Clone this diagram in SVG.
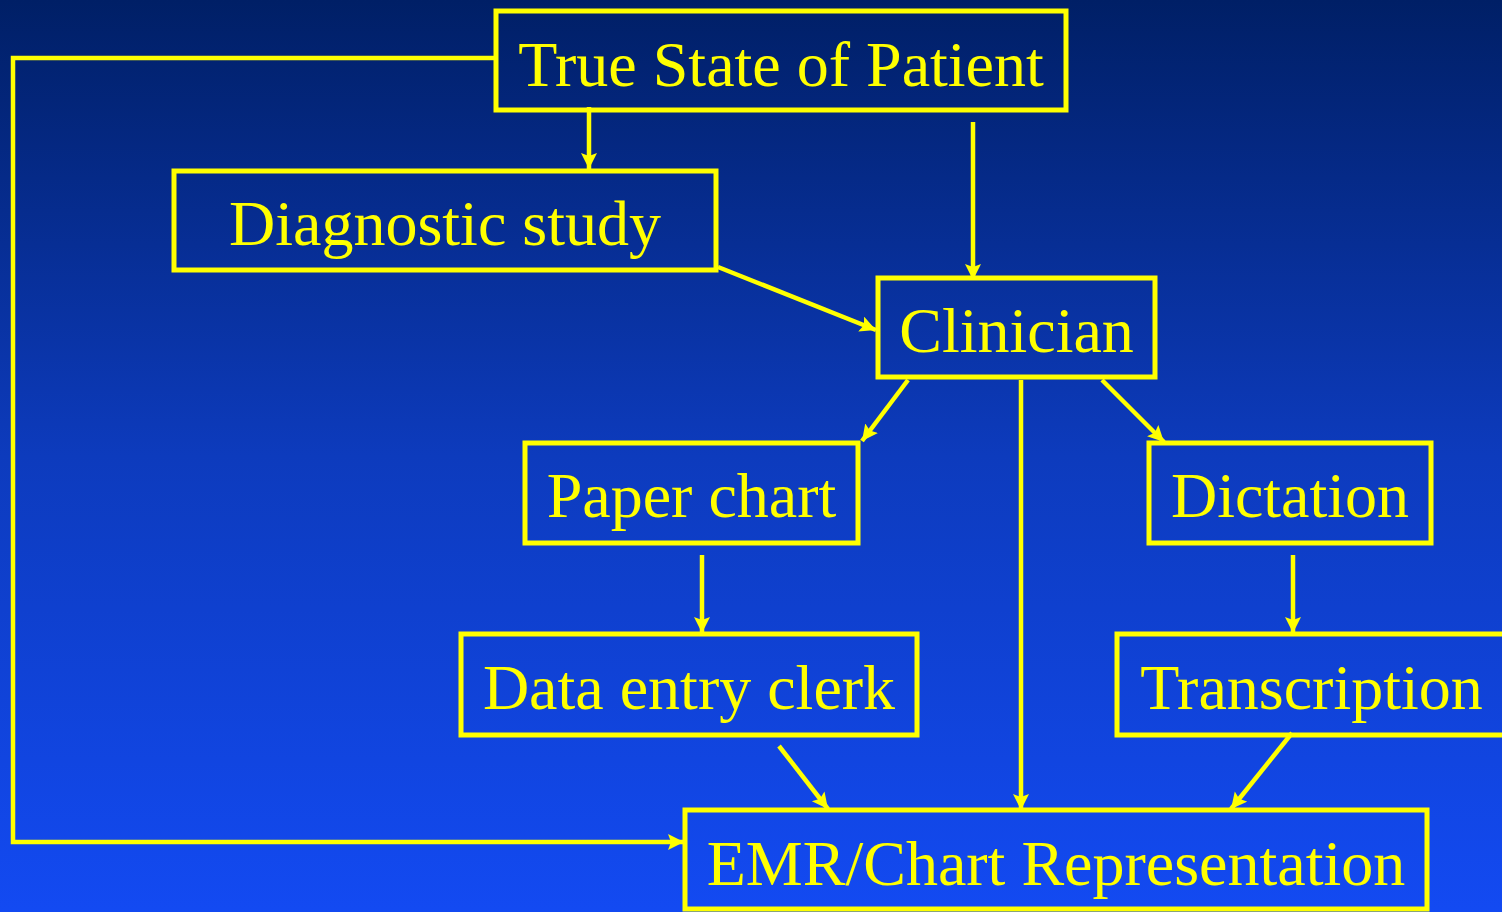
<svg xmlns="http://www.w3.org/2000/svg" width="1502" height="912" viewBox="0 0 1502 912">
<defs>
<linearGradient id="bg" x1="0" y1="0" x2="0" y2="1">
<stop offset="0" stop-color="#001f66"/>
<stop offset="0.5" stop-color="#0d3bbd"/>
<stop offset="1" stop-color="#134af2"/>
</linearGradient>
<marker id="arr" markerUnits="userSpaceOnUse" markerWidth="18" markerHeight="18" refX="16" refY="8" orient="auto">
<path d="M0,0 L16,8 L0,16 L3,8 z" fill="#ffff00"/>
</marker>
<style>
.box{fill:none;stroke:#ffff00;stroke-width:5}
.lbl{font-family:"Liberation Serif","Times New Roman",serif;font-size:64px;fill:#ffff00;text-anchor:middle}
.con{fill:none;stroke:#ffff00;stroke-width:4.5}
</style>
</defs>
<rect x="0" y="0" width="1502" height="912" fill="url(#bg)"/>
<g id="connectors">
<line class="con" x1="589" y1="107" x2="589" y2="169" marker-end="url(#arr)"/>
<line class="con" x1="973" y1="122" x2="973" y2="280" marker-end="url(#arr)"/>
<line class="con" x1="718" y1="267" x2="876" y2="330" marker-end="url(#arr)"/>
<line class="con" x1="908" y1="380" x2="862" y2="441" marker-end="url(#arr)"/>
<line class="con" x1="1021" y1="380" x2="1021" y2="810" marker-end="url(#arr)"/>
<line class="con" x1="1102" y1="380" x2="1164" y2="442" marker-end="url(#arr)"/>
<line class="con" x1="702" y1="555" x2="702" y2="633" marker-end="url(#arr)"/>
<line class="con" x1="1293" y1="555" x2="1293" y2="633" marker-end="url(#arr)"/>
<line class="con" x1="779" y1="746" x2="828" y2="809" marker-end="url(#arr)"/>
<line class="con" x1="1292" y1="733" x2="1231" y2="809" marker-end="url(#arr)"/>
<polyline class="con" points="494,58 13,58 13,842 684,842" marker-end="url(#arr)"/>
</g>
<g id="true-state">
<rect class="box" x="496" y="11" width="570" height="99"/>
<text class="lbl" x="781" y="86">True State of Patient</text>
</g>
<g id="diagnostic-study">
<rect class="box" x="174" y="171" width="542" height="99"/>
<text class="lbl" x="445" y="245">Diagnostic study</text>
</g>
<g id="clinician">
<rect class="box" x="878" y="278" width="277" height="99"/>
<text class="lbl" x="1016.5" y="352">Clinician</text>
</g>
<g id="paper-chart">
<rect class="box" x="525" y="443" width="333" height="100"/>
<text class="lbl" x="691.5" y="517">Paper chart</text>
</g>
<g id="dictation">
<rect class="box" x="1149" y="443" width="282" height="100"/>
<text class="lbl" x="1290" y="517">Dictation</text>
</g>
<g id="data-entry-clerk">
<rect class="box" x="461" y="634" width="456" height="101"/>
<text class="lbl" x="689" y="709">Data entry clerk</text>
</g>
<g id="transcription">
<rect class="box" x="1117" y="634" width="390" height="101"/>
<text class="lbl" x="1311.5" y="709">Transcription</text>
</g>
<g id="emr">
<rect class="box" x="685" y="810" width="742" height="99"/>
<text class="lbl" x="1056" y="885">EMR/Chart Representation</text>
</g>
</svg>
